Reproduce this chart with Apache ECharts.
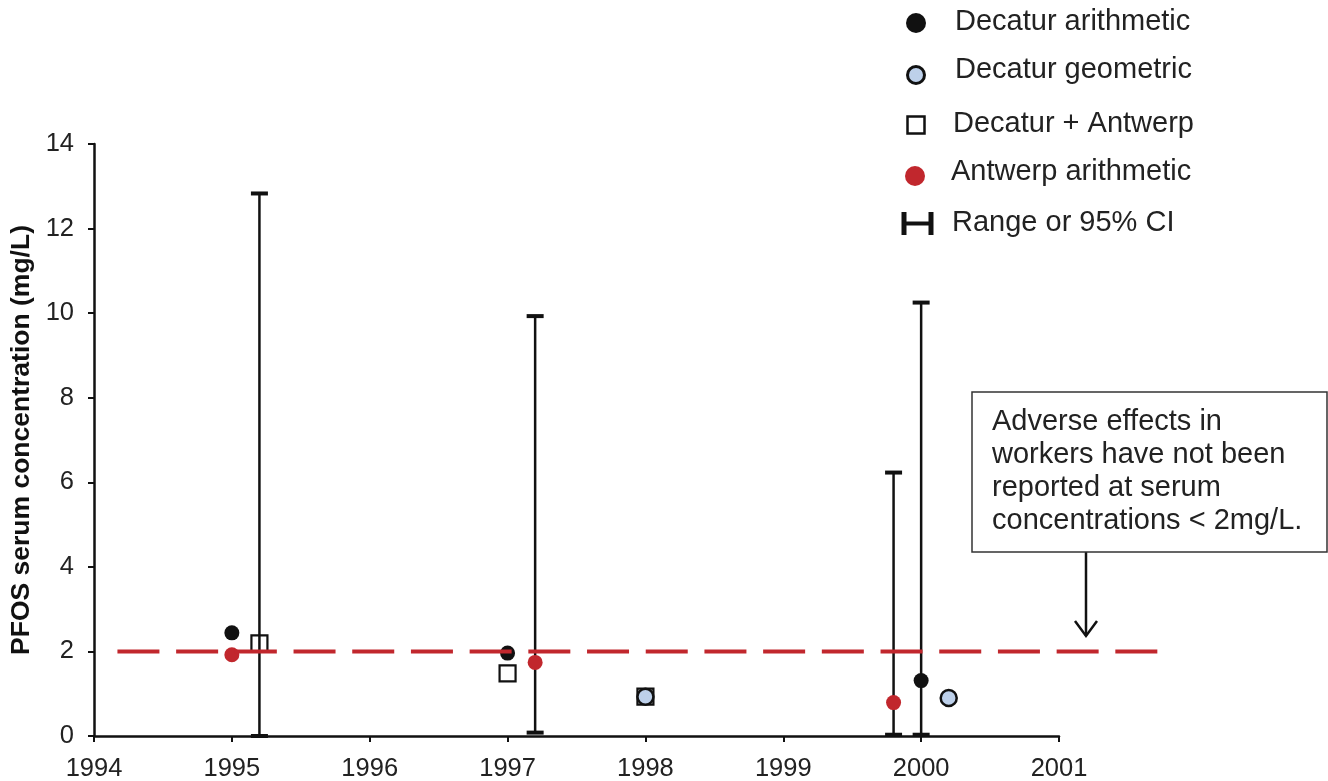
<!DOCTYPE html>
<html>
<head>
<meta charset="utf-8">
<script src="https://cdn.jsdelivr.net/npm/echarts@6/dist/echarts.min.js"></script>
<style>
  html, body { margin: 0; padding: 0; background: #ffffff; }
  #chart { width: 1328px; height: 781px; }
</style>
</head>
<body>
<div id="chart"></div>
<script>
// Mean serum PFOS by survey year (mg/L); points are [year, value]
const decaturArithmetic = [[1995, 2.44], [1997, 1.96], [2000, 1.31]];
const decaturGeometric  = [[1998, 0.93], [2000.2, 0.90]];
const decaturAntwerp    = [[1995.2, 2.19], [1997, 1.48], [1998, 0.93]];
const antwerpArithmetic = [[1995, 1.92], [1997.2, 1.74], [1999.8, 0.79]];
// Range or 95% CI: [year, low, high]
const rangeCI = [[1995.2, 0, 12.83], [1997.2, 0.08, 9.93], [1999.8, 0.03, 6.23], [2000, 0.03, 10.25]];
// Threshold for reported adverse effects (mg/L) and the span of years it is drawn across
const threshold = 2;
const thresholdSpan = [1994.17, 2001.72];
// Axis ranges
const xRange = [1994, 2001];
const yRange = [0, 14];

const FONT = '"Liberation Sans", Arial, Helvetica, sans-serif';
const INK = '#111111';
const RED = '#c1272d';
const BLUE = '#bdd0ea';

const chart = echarts.init(document.getElementById('chart'), null, { renderer: 'canvas' });

function errorBar(params, api) {
  const lo = api.coord([api.value(0), api.value(1)]);
  const hi = api.coord([api.value(0), api.value(2)]);
  const half = 8.5;
  const stroke = { stroke: INK, lineWidth: 2.5 };
  const cap = { stroke: INK, lineWidth: 4 };
  return {
    type: 'group',
    children: [
      { type: 'line', shape: { x1: lo[0], y1: lo[1], x2: hi[0], y2: hi[1] }, style: stroke },
      { type: 'line', shape: { x1: lo[0] - half, y1: lo[1], x2: lo[0] + half, y2: lo[1] }, style: cap },
      { type: 'line', shape: { x1: hi[0] - half, y1: hi[1], x2: hi[0] + half, y2: hi[1] }, style: cap }
    ]
  };
}

// Dashed reference line; it runs on past the last year tick
function thresholdLine(params, api) {
  const a = api.coord([api.value(0), api.value(2)]);
  const b = api.coord([api.value(1), api.value(2)]);
  return {
    type: 'line',
    shape: { x1: a[0], y1: a[1], x2: b[0], y2: b[1] },
    style: { stroke: RED, lineWidth: 4, lineDash: [42, 16.7], lineCap: 'butt' }
  };
}

// Legend entries drawn as graphic rows
const legendRows = [
  { label: 'Decatur arithmetic', y: 22, tx: 955,
    icon: { type: 'circle', shape: { cx: 916, cy: 23, r: 10 }, style: { fill: INK } } },
  { label: 'Decatur geometric', y: 70, tx: 955,
    icon: { type: 'circle', shape: { cx: 916, cy: 75, r: 8.5 }, style: { fill: BLUE, stroke: INK, lineWidth: 3 } } },
  { label: 'Decatur + Antwerp', y: 124, tx: 953,
    icon: { type: 'rect', shape: { x: 907.5, y: 116.5, width: 17, height: 17 }, style: { fill: 'none', stroke: INK, lineWidth: 2.5 } } },
  { label: 'Antwerp arithmetic', y: 172, tx: 951,
    icon: { type: 'circle', shape: { cx: 915, cy: 176, r: 10 }, style: { fill: RED } } }
];
const legendGraphics = [];
legendRows.forEach(r => {
  legendGraphics.push(r.icon);
  legendGraphics.push({
    type: 'text', x: r.tx, y: r.y,
    style: { text: r.label, font: '29px ' + FONT, fill: '#222', verticalAlign: 'middle' }
  });
});
// Range icon
legendGraphics.push(
  { type: 'line', shape: { x1: 904, y1: 212, x2: 904, y2: 235 }, style: { stroke: INK, lineWidth: 5 } },
  { type: 'line', shape: { x1: 904, y1: 223.5, x2: 931, y2: 223.5 }, style: { stroke: INK, lineWidth: 4 } },
  { type: 'line', shape: { x1: 931, y1: 212, x2: 931, y2: 235 }, style: { stroke: INK, lineWidth: 5 } },
  { type: 'text', x: 952, y: 223,
    style: { text: 'Range or 95% CI', font: '29px ' + FONT, fill: '#222', verticalAlign: 'middle' } }
);

// Annotation box with arrow pointing at the threshold line
const noteGraphics = [
  { type: 'rect', shape: { x: 972, y: 392, width: 355, height: 160 },
    style: { fill: '#ffffff', stroke: '#333', lineWidth: 1.5 }, z: 5 },
  { type: 'text', x: 992, y: 405, z: 6,
    style: {
      text: 'Adverse effects in\nworkers have not been\nreported at serum\nconcentrations < 2mg/L.',
      font: '29px ' + FONT, lineHeight: 33, fill: '#222', verticalAlign: 'top'
    } },
  { type: 'line', shape: { x1: 1086, y1: 552, x2: 1086, y2: 636 }, style: { stroke: INK, lineWidth: 2.5 } },
  { type: 'polyline', shape: { points: [[1075, 621], [1086, 636], [1097, 621]] },
    style: { stroke: INK, lineWidth: 2.5, fill: null } }
];

chart.setOption({
  animation: false,
  backgroundColor: '#ffffff',
  grid: { left: 94, right: 269, top: 144, bottom: 45, containLabel: false, outerBoundsMode: 'none' },
  xAxis: {
    type: 'value', min: xRange[0], max: xRange[1], interval: 1,
    axisLine: { show: true, onZero: false, lineStyle: { color: INK, width: 2.5 } },
    axisTick: { show: true, inside: false, length: 6, lineStyle: { color: INK, width: 2 } },
    axisLabel: { margin: 20, color: '#222', fontSize: 25.5, fontFamily: FONT, formatter: v => String(v) },
    splitLine: { show: false }
  },
  yAxis: {
    type: 'value', min: yRange[0], max: yRange[1], interval: 2,
    name: 'PFOS serum concentration (mg/L)',
    nameLocation: 'middle', nameGap: 59, nameRotate: 90,
    nameTextStyle: { fontSize: 26.5, fontWeight: 'bold', fontFamily: FONT, color: INK },
    axisLine: { show: true, lineStyle: { color: INK, width: 2.5 } },
    axisTick: { show: true, inside: false, length: 6, lineStyle: { color: INK, width: 2 } },
    axisLabel: { margin: 20, color: '#222', fontSize: 25.5, fontFamily: FONT },
    splitLine: { show: false }
  },
  series: [
    {
      name: 'Range or 95% CI', type: 'custom', renderItem: errorBar,
      encode: { x: 0, y: [1, 2] }, data: rangeCI, z: 2
    },
    {
      name: 'Decatur arithmetic', type: 'scatter', data: decaturArithmetic,
      symbol: 'circle', symbolSize: 15, itemStyle: { color: INK, opacity: 1 }, z: 3
    },
    {
      name: 'Decatur + Antwerp', type: 'scatter', data: decaturAntwerp,
      symbol: 'rect', symbolSize: 16,
      itemStyle: { color: 'rgba(0,0,0,0)', borderColor: INK, borderWidth: 2.2, opacity: 1 }, z: 3
    },
    {
      name: 'Decatur geometric', type: 'scatter', data: decaturGeometric,
      symbol: 'circle', symbolSize: 16,
      itemStyle: { color: BLUE, borderColor: INK, borderWidth: 2.5, opacity: 1 }, z: 4
    },
    {
      name: 'Antwerp arithmetic', type: 'scatter', data: antwerpArithmetic,
      symbol: 'circle', symbolSize: 15, itemStyle: { color: RED, opacity: 1 }, z: 4
    },
    {
      name: 'Threshold', type: 'custom', renderItem: thresholdLine, clip: false, silent: true,
      encode: { x: [0, 1], y: 2 },
      data: [[thresholdSpan[0], thresholdSpan[1], threshold]], z: 5
    }
  ],
  graphic: legendGraphics.concat(noteGraphics)
});
</script>
</body>
</html>
